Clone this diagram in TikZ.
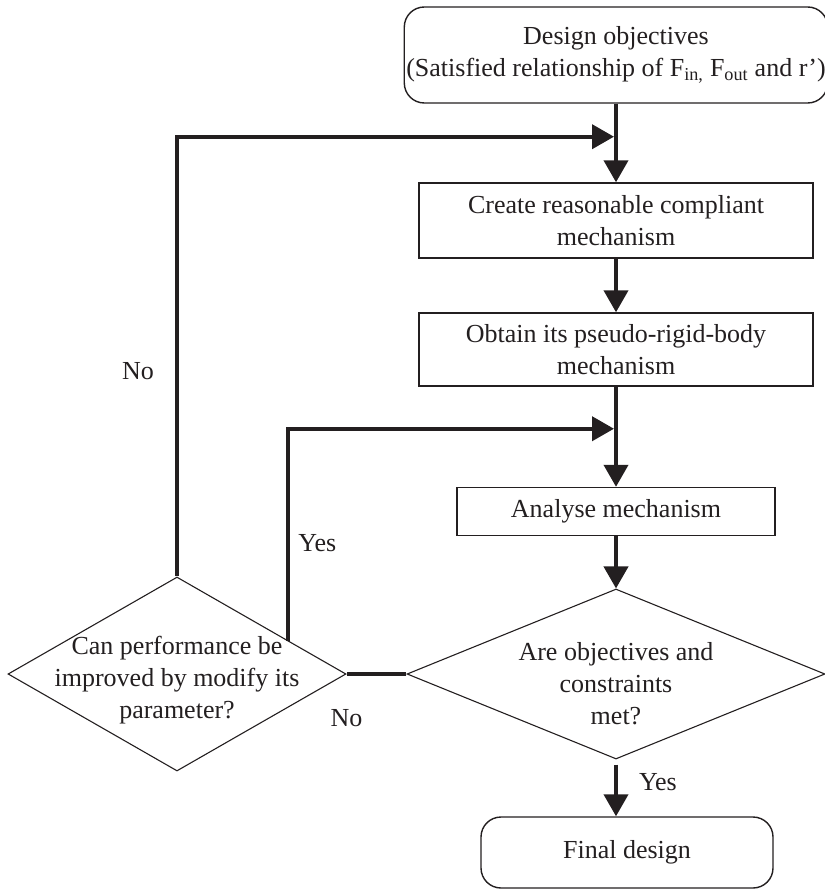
\documentclass[tikz,border=0pt]{standalone}
\usepackage{fontspec}
\setmainfont{Liberation Serif}
\usepackage{tikz}
\usetikzlibrary{arrows.meta,calc,shapes.geometric}
\definecolor{ink}{HTML}{231F20}

\begin{document}
\begin{tikzpicture}[x=1pt,y=-1pt,
  every node/.style={text=ink,font=\fontsize{26}{32}\selectfont},
  term/.style={draw=ink,line width=1.4pt,rounded corners=20pt,align=center,inner sep=2pt},
  process/.style={draw=ink,line width=1.4pt,align=center,inner sep=2pt},
  decision/.style={diamond,draw=ink,line width=1.1pt,inner sep=0pt},
  flow/.style={draw=ink,line width=4pt,-{Triangle[length=22pt,width=24pt]}},
  link/.style={draw=ink,line width=4pt},
  lbl/.style={inner sep=0pt}]
\useasboundingbox (0,0) rectangle (824,890);

% Main column
\node[term,minimum width=422pt,minimum height=96pt] (obj) at (616,55)
  {Design objectives\\(Satisfied relationship of F\textsubscript{in,} F\textsubscript{out}\ and r')};
\node[process,minimum width=394pt,minimum height=75pt] (create) at (616,220.5)
  {Create reasonable compliant\\mechanism};
\node[process,minimum width=394pt,minimum height=73pt] (obtain) at (616,349.5)
  {Obtain its pseudo-rigid-body\\mechanism};
\node[process,minimum width=318pt,minimum height=48pt] (analyse) at (616,511.5)
  {Analyse mechanism};
\node[decision,minimum width=418pt,minimum height=170pt,
  label={[lbl,align=center,yshift=-10pt]center:Are objectives and\\constraints\\met?}] (met) at (616,674) {};
\node[term,minimum width=292pt,minimum height=71pt] (final) at (627,852.5) {Final design};

% Side decision
\node[decision,minimum width=338pt,minimum height=194pt,
  label={[lbl,align=center,yshift=-6pt]center:Can performance be\\improved by modify its\\parameter?}] (perf) at (177,674) {};

% Joints on the main column
\coordinate (join1) at ($(obj.south)!0.42!(create.north)$);
\coordinate (join2) at ($(obtain.south)!0.42!(analyse.north)$);
\coordinate (tap) at ($(perf.north)!0.657!(perf.east)$);

% Arrows down the column
\draw[flow] (obj) -- (create);
\draw[flow] (create) -- (obtain);
\draw[flow] (obtain) -- (analyse);
\draw[flow] (analyse) -- (met);
\draw[flow,shorten <=5pt] (met.south) -- (met.south |- final.north)
  node[lbl,pos=0.4,right=21pt] (yes2) {Yes};

% Feedback loops
\draw[link] (met.west) -- (perf.east) node[lbl,pos=1,below=33pt] (no2) {No};
\draw[flow,shorten >=2pt] (perf.north) |- node[lbl,pos=0.234,left=21pt] (no1) {No} (join1);
\draw[flow,shorten >=2pt] (tap) |- node[lbl,pos=0.23,right=8pt] (yes1) {Yes} (join2);
\end{tikzpicture}
\end{document}
